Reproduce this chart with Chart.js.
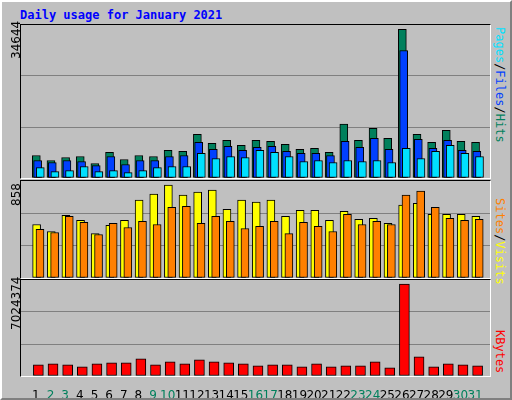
<!DOCTYPE html>
<html><head><meta charset="utf-8">
<script src="https://cdn.jsdelivr.net/npm/chart.js@4"></script>
<style>
html,body{margin:0;padding:0;background:#fff}
#frame{position:absolute;left:0;top:0;width:508px;height:396px;background:#c0c0c0;border-top:2px solid #fff;border-left:2px solid #fff;border-right:2px solid #808080;border-bottom:2px solid #808080}
.box{position:absolute;left:20px;width:469px;border-top:1px solid #000;border-left:1px solid #000;border-right:1px solid #fff;border-bottom:1px solid #fff;background:#c0c0c0}
.box canvas{display:block}
#title{position:absolute;left:20px;top:8px;font:bold 12px "DejaVu Sans Mono",monospace;color:#0000ff}
.lab{position:absolute;white-space:nowrap;font:12px "DejaVu Sans Mono",monospace}
.left{transform:rotate(-90deg);transform-origin:left top;color:#000;font-family:"DejaVu Sans",sans-serif}
.right{transform:rotate(90deg);transform-origin:left top}
</style></head><body>
<div id="frame"></div>
<div id="title">Daily usage for January 2021</div>
<div class="box" style="top:24px;height:153px"><canvas id="c1"></canvas></div>
<div class="box" style="top:180px;height:97px"><canvas id="c2"></canvas></div>
<div class="box" style="top:279px;height:96px"><canvas id="c3"></canvas></div>
<div id="days" style="position:absolute;left:21px;top:376px;width:469px;height:22px"><canvas id="c4"></canvas></div>
<div class="lab left" style="left:9px;top:59px">34644</div>
<div class="lab left" style="left:9px;top:206px">858</div>
<div class="lab left" style="left:9px;top:330px">7024374</div>
<div class="lab right" style="left:507px;top:27px"><span style="color:#00e0ff">Pages</span>/<span style="color:#0040ff">Files</span>/<span style="color:#00805c">Hits</span></div>
<div class="lab right" style="left:507px;top:198px"><span style="color:#ff8000">Sites</span>/<span style="color:#ffff00">Visits</span></div>
<div class="lab right" style="left:507px;top:330px"><span style="color:#ff0000">KBytes</span></div>
<script>
const days=[1,2,3,4,5,6,7,8,9,10,11,12,13,14,15,16,17,18,19,20,21,22,23,24,25,26,27,28,29,30,31];
const weekend=[2,3,9,10,16,17,23,24,30,31];
const hits=[5250,4080,4780,5020,3370,5960,4310,5250,5020,6430,6190,10190,8080,8780,7600,8780,8550,7840,6660,6900,5960,12540,8780,11600,9250,34644,10190,8310,11130,8550,8310];
const files=[4080,3610,4080,3840,2900,5020,3140,4080,4080,5020,5250,8310,6660,7370,6430,7130,7370,6190,5720,5720,5250,8550,7130,9250,6660,29710,9020,6900,8780,6430,6190];
const pages=[2430,1490,1720,2670,1490,1720,1250,1720,2430,2670,2670,5720,4550,5020,4780,6430,5960,5020,3840,4080,3610,4080,3840,4080,3610,6900,4550,6190,7600,5720,5020];
const visits=[494,429,578,532,410,485,532,718,774,858,765,793,811,634,718,700,718,569,625,625,532,616,541,550,504,672,690,588,588,588,569];
const sites=[448,420,569,513,401,504,466,522,494,653,662,504,569,522,457,476,522,410,513,476,429,588,494,522,494,765,802,653,550,532,541];
const kbytes=[849000,926000,849000,695000,926000,1003000,1003000,1312000,849000,1081000,926000,1235000,1081000,1003000,926000,772000,849000,849000,695000,926000,695000,772000,772000,1081000,618000,7024374,1467000,695000,926000,849000,772000];

function ds(vals,off,w,color,order){
  return {data:vals.map((v,i)=>({x:days[i]+off,y:v})),backgroundColor:color,borderColor:'#000',borderWidth:1,borderSkipped:false,barThickness:w,grouped:false,order:order};
}
function makeChart(id,w,h,datasets,ymax,xTicks){
  const cv=document.getElementById(id);
  return new Chart(cv,{type:'bar',data:{datasets},
    options:{responsive:false,animation:false,devicePixelRatio:1,
      layout:{padding:0},
      plugins:{legend:{display:false},tooltip:{enabled:false}},
      scales:{
        x:{type:'linear',min:0.5,max:31.5,display:!!xTicks,grid:{display:false,drawTicks:false},border:{display:false},
           afterBuildTicks:s=>{s.ticks=days.map(d=>({value:d}));},
           ticks:{autoSkip:false,padding:2,font:{family:'DejaVu Sans',size:12},color:c=>weekend.includes(c.tick&&c.tick.value)?'#00805c':'#000',callback:v=>String(v)}},
        y:{min:0,max:ymax,display:!xTicks,ticks:{display:false,stepSize:ymax/3},border:{display:false},
           grid:{drawTicks:false,lineWidth:1,color:c=>(c.index===1||c.index===2)?'#808080':'rgba(0,0,0,0)'}}
      }}});
}
function size(id,w,h){const c=document.getElementById(id);c.width=w;c.height=h;c.style.width=w+'px';c.style.height=h+'px';}
size('c1',469,153);size('c2',469,97);size('c3',469,96);size('c4',469,22);
makeChart('c1',469,153,[ds(hits,0.03,8,'#00805c',2),ds(files,0.12,8,'#0040ff',1),ds(pages,0.3,8,'#00e0ff',0)],35650);
makeChart('c2',469,97,[ds(visits,0.05,8,'#ffff00',1),ds(sites,0.28,8,'#ff8000',0)],895);
makeChart('c3',469,96,[ds(kbytes,0.17,10,'#ff0000',0)],7333000);
makeChart('c4',469,22,[{data:[],barThickness:1}],1,true);
</script>
</body></html>
